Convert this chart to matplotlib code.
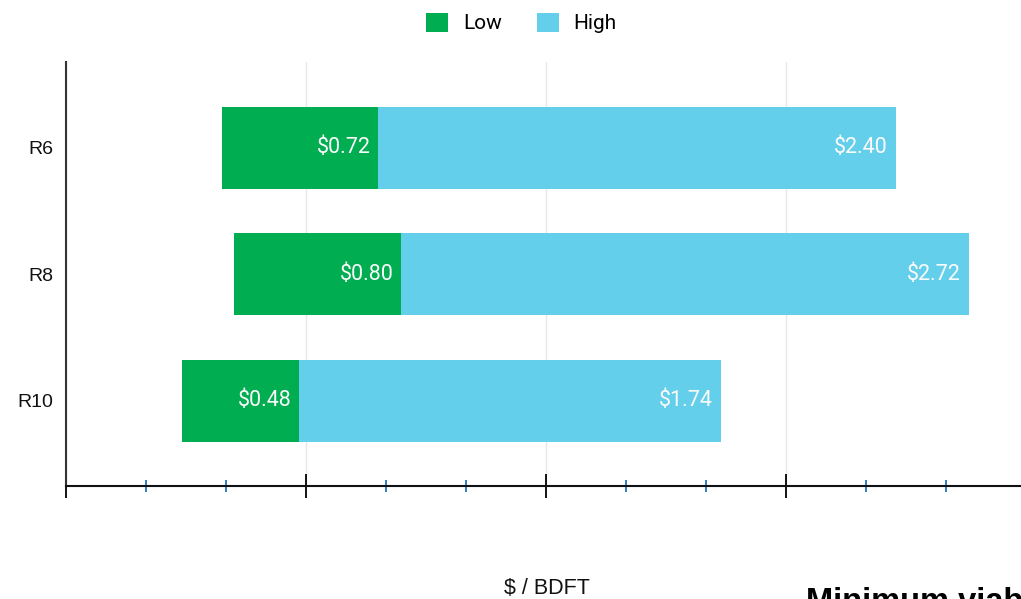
import matplotlib
matplotlib.use("Agg")
import matplotlib.pyplot as plt
from matplotlib.patches import Patch
from matplotlib.ticker import MultipleLocator

# ---- data (axis units: one major tick interval = 1) ----
categories = ["R6", "R8", "R10"]
bar_start = [0.649, 0.701, 0.483]
low_end = [1.300, 1.397, 0.971]
high_end = [3.457, 3.761, 2.728]
low_labels = [0.72, 0.80, 0.48]
high_labels = [2.40, 2.72, 1.74]
series_names = ["Low", "High"]
x_title = "$ / BDFT"
footer_text = "Minimum viable"

GREEN = "#00ad50"
BLUE = "#64cfea"

W, H, DPI = 1021, 599, 100
fig = plt.figure(figsize=(W / DPI, H / DPI), dpi=DPI)
ax_left, ax_right, ax_top, ax_bot = 66, 1021, 62, 486
ax = fig.add_axes([ax_left / W, (H - ax_bot) / H, (ax_right - ax_left) / W, (ax_bot - ax_top) / H])

ypos = list(range(len(categories)))
bar_h = 0.648
low_w = [e - s for s, e in zip(bar_start, low_end)]
high_w = [e - s for s, e in zip(low_end, high_end)]

ax.barh(ypos, low_w, left=bar_start, height=bar_h, color=GREEN, zorder=3)
ax.barh(ypos, high_w, left=low_end, height=bar_h, color=BLUE, zorder=3)

for y, xe, v in zip(ypos, low_end, low_labels):
    ax.annotate(f"${v:.2f}", (xe, y), xytext=(-5.5, 0), textcoords="offset points",
                ha="right", va="center", color="#fbfbfb", fontsize=15.5, family="Roboto", zorder=4)
for y, xe, v in zip(ypos, high_end, high_labels):
    ax.annotate(f"${v:.2f}", (xe, y), xytext=(-6, 0), textcoords="offset points",
                ha="right", va="center", color="#fbfbfb", fontsize=15.5, family="Roboto", zorder=4)

ax.set_xlim(0, (ax_right - ax_left) / 240.0)
ax.set_ylim(2.674, -0.677)

ax.set_yticks(ypos)
ax.set_yticklabels(categories, family="Liberation Sans", fontsize=14, color="#111111")
ax.tick_params(axis="y", length=0, pad=9.0)

ax.xaxis.set_major_locator(MultipleLocator(1))
ax.xaxis.set_minor_locator(MultipleLocator(1 / 3))
ax.tick_params(axis="x", which="major", direction="inout", length=17, width=1.4,
               color="#111111", labelbottom=False)
ax.tick_params(axis="x", which="minor", direction="inout", length=8.6, width=1.4,
               color="#2f7fc1", labelbottom=False)

ax.grid(axis="x", which="major", color="#e8e8e8", linewidth=1.0, zorder=0)
ax.set_axisbelow(True)

for s in ["top", "right"]:
    ax.spines[s].set_visible(False)
ax.spines["left"].set_linewidth(1.5)
ax.spines["left"].set_color("#333333")
ax.spines["bottom"].set_linewidth(1.5)
ax.spines["bottom"].set_color("#111111")

handles = [Patch(facecolor=GREEN, edgecolor="none"), Patch(facecolor=BLUE, edgecolor="none")]
fig.legend(handles, series_names, loc="center", bbox_to_anchor=(521.5 / W, 1 - 23 / H),
           ncol=2, frameon=False, handlelength=1.05, handleheight=1.05,
           handletextpad=0.7, columnspacing=1.7, prop={"family": "Roboto", "size": 15})

fig.text(546.5 / W, 1 - 594 / H, x_title, ha="center", va="baseline",
         family="Liberation Sans", fontsize=15.5, color="#111111")
fig.text(806 / W, 1 - 587 / H, footer_text, ha="left", va="top",
         family="Liberation Sans", fontsize=23.5, fontweight="bold", color="black")

fig.savefig("out.png", dpi=DPI)
